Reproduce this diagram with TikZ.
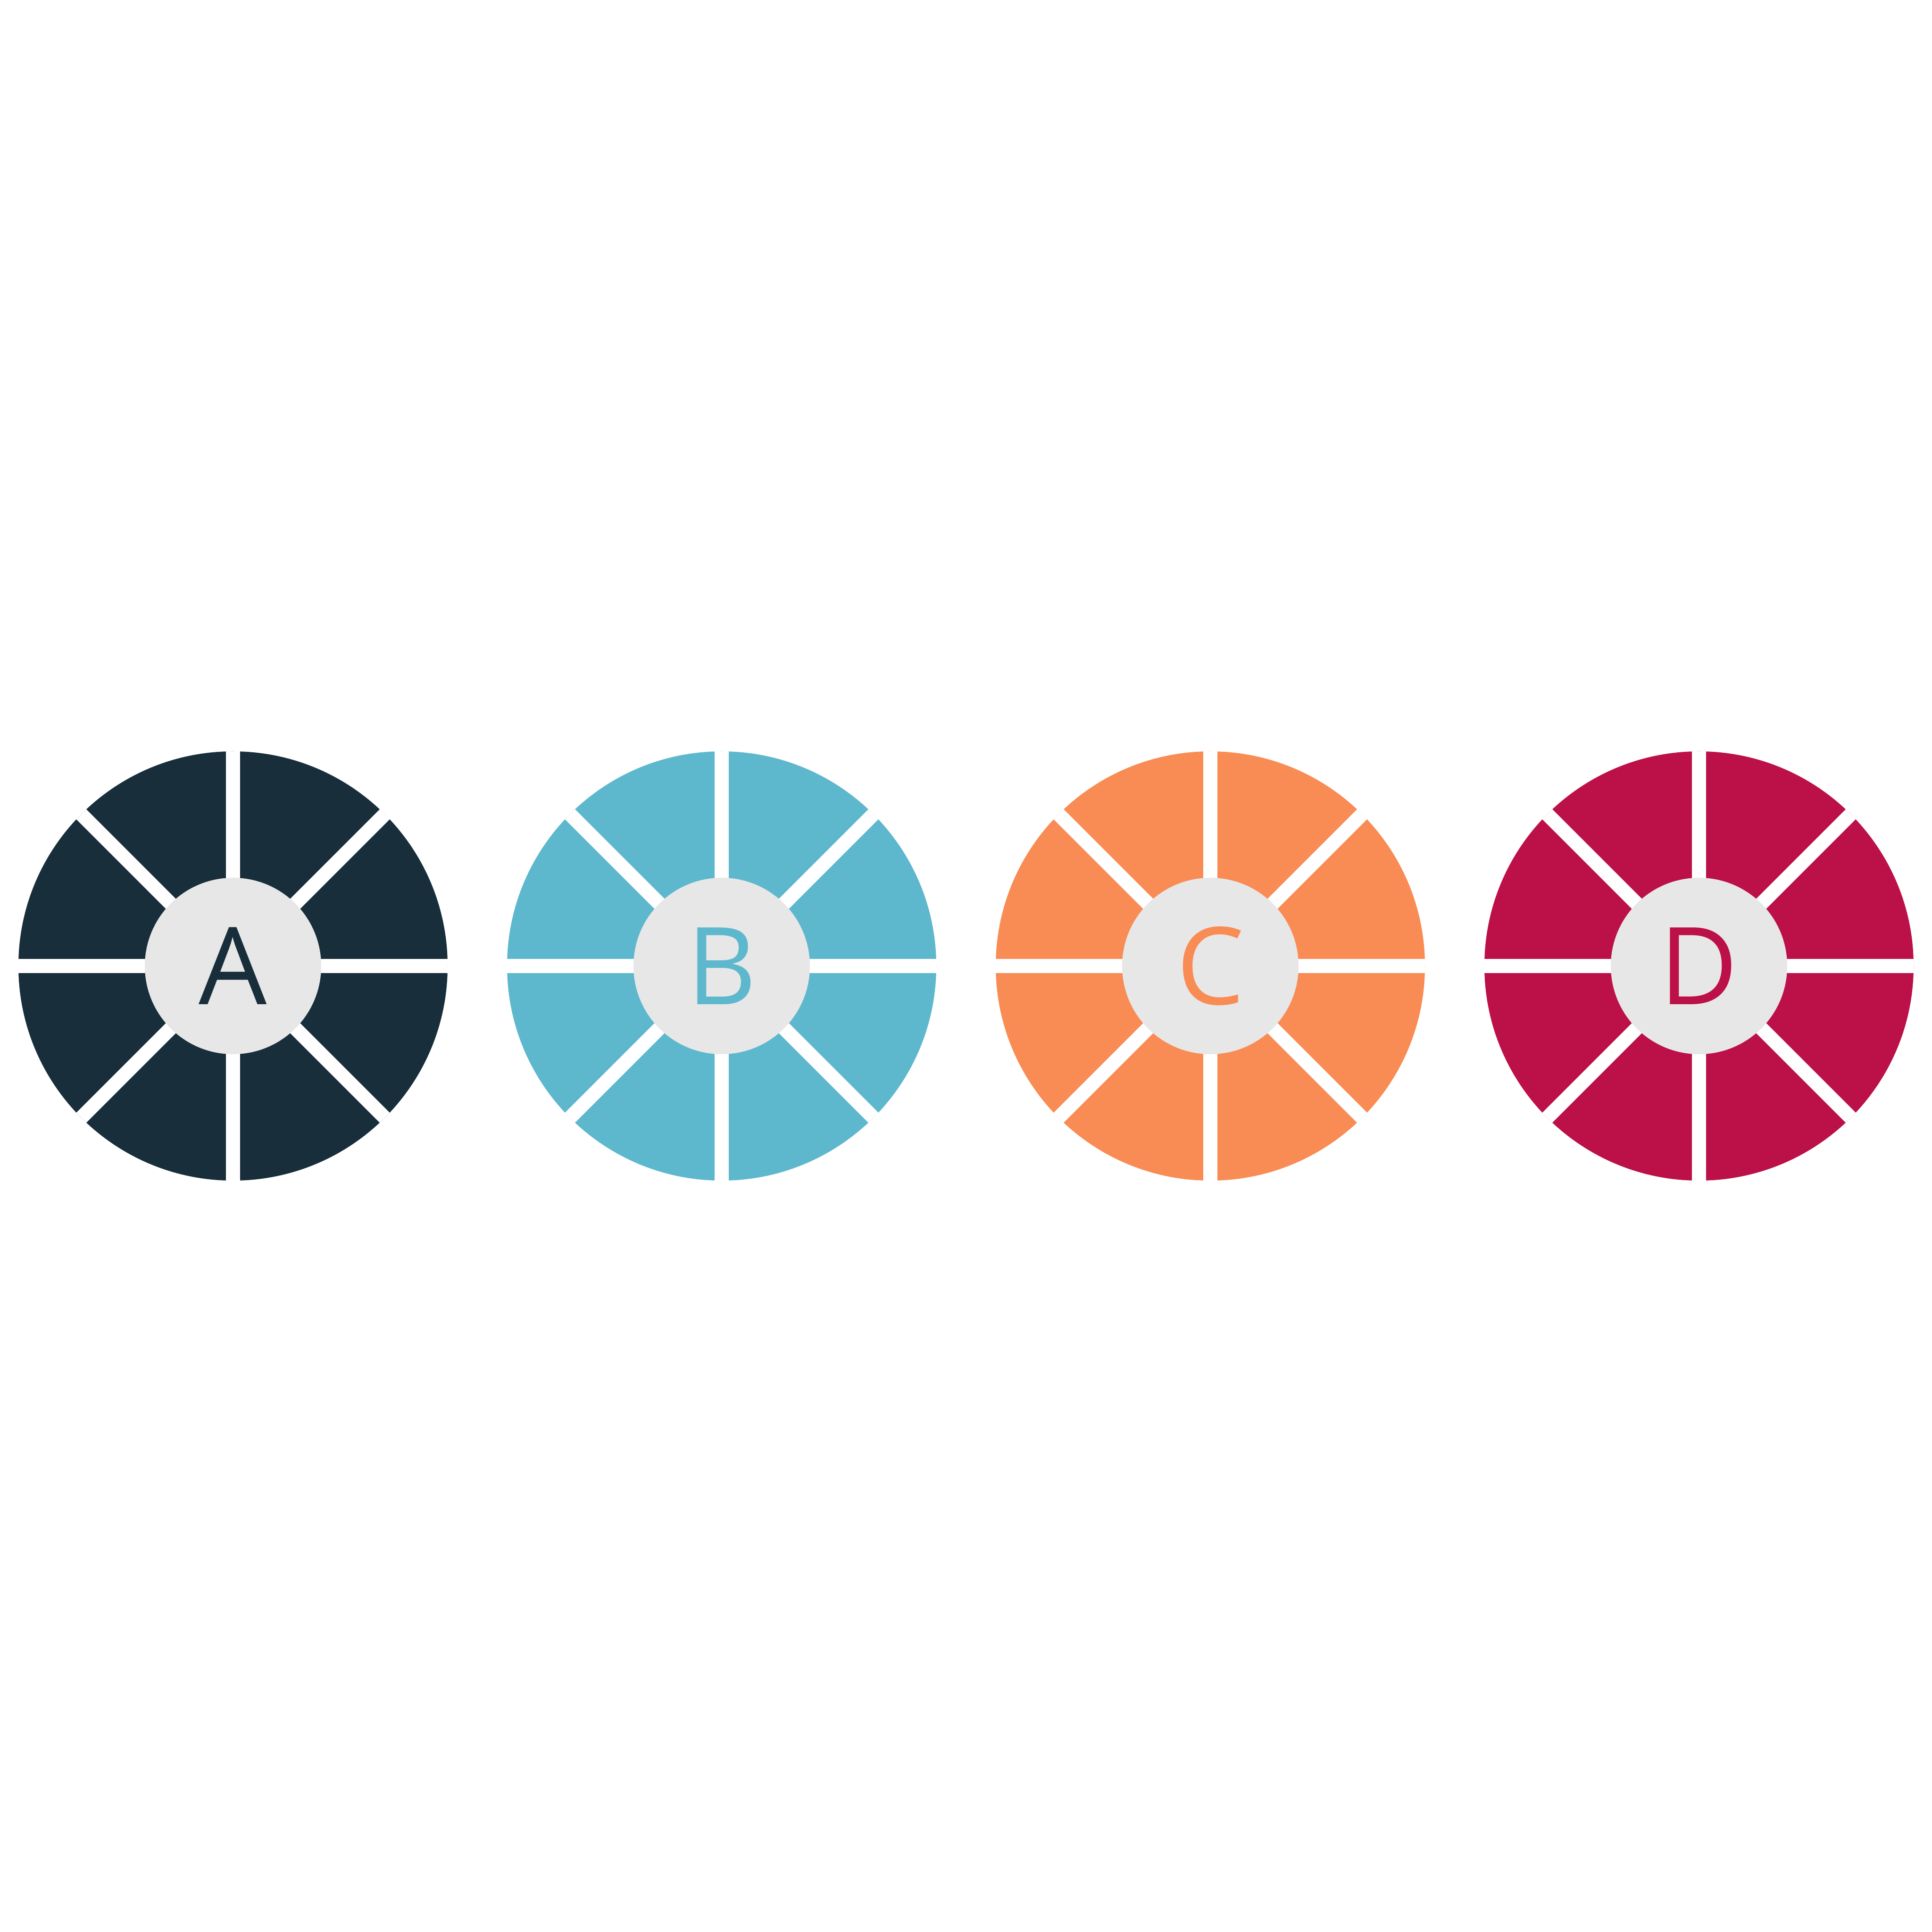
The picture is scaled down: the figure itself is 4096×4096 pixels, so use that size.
\documentclass[tikz,border=0pt]{standalone}
\usepackage{fontspec}
\setmainfont{Open Sans}
\definecolor{cA}{HTML}{182E3B}
\definecolor{cB}{HTML}{5EB8CD}
\definecolor{cC}{HTML}{F98C54}
\definecolor{cD}{HTML}{BC1048}
\definecolor{hub}{HTML}{E7E7E7}
\tikzset{
  wheel/.style={circle, fill=#1, minimum size=910pt, inner sep=0pt, outer sep=0pt},
  hubnode/.style={circle, fill=hub, text=#1, minimum size=374pt, inner sep=0pt, outer sep=0pt,
    font=\fontsize{228}{228}\selectfont},
  gap/.style={draw=white, line width=30pt, line cap=butt}
}
\begin{document}
\begin{tikzpicture}[x=1pt,y=1pt]
\useasboundingbox[fill=white] (0,0) rectangle (4096,4096);
\foreach \n/\x/\c in {A/494/cA, B/1530/cB, C/2566/cC, D/3602/cD}{
  \node[wheel=\c] (w\n) at (\x,2048) {};
  \draw[gap] (w\n.north) -- (w\n.south);
  \draw[gap] (w\n.east) -- (w\n.west);
  \draw[gap] (w\n.north east) -- (w\n.south west);
  \draw[gap] (w\n.north west) -- (w\n.south east);
  \node[hubnode=\c] (h\n) at (w\n.center) {\n};
}
\end{tikzpicture}
\end{document}
